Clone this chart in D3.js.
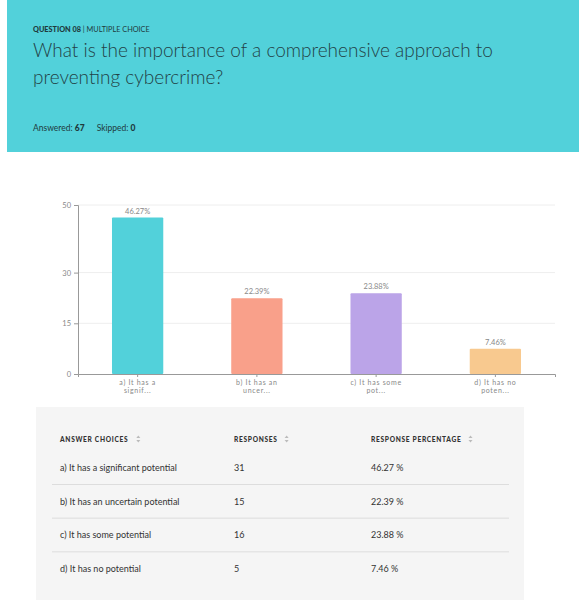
<!DOCTYPE html>
<html>
<head>
<meta charset="utf-8">
<script src="https://cdn.jsdelivr.net/npm/d3@7"></script>
<style>
  body { margin: 0; background: #fff; }
  text { font-family: Lato, "Open Sans", sans-serif; }
</style>
</head>
<body>
<div id="chart"></div>
<script>
// page size
const width = 579;
const height = 603;

// data
const choices = ["a) It has a significant potential", "b) It has an uncertain potential",
                 "c) It has some potential", "d) It has no potential"];
const shortLabels = [["a) It has a", "signif..."], ["b) It has an", "uncer..."],
                     ["c) It has some", "pot..."], ["d) It has no", "poten..."]];
const responses = [31, 15, 16, 5];
const percents = [46.27, 22.39, 23.88, 7.46];
const barColors = ["#52d1da", "#f9a08a", "#bba4e8", "#f8c98f"];
const yTicks = [0, 15, 30, 50];

const svg = d3.select("#chart")
  .append("svg")
  .attr("width", width)
  .attr("height", height);

// header band
svg.append("rect")
  .attr("x", 7).attr("y", 0)
  .attr("width", width - 7).attr("height", 152)
  .attr("fill", "#52d1da");

svg.append("text")
  .attr("x", 33).attr("y", 32)
  .attr("font-size", 7.3).attr("fill", "#1f3a3d")
  .html('<tspan font-weight="900">QUESTION 08</tspan> | MULTIPLE CHOICE');

const titleLines = ["What is the importance of a comprehensive approach to", "preventing cybercrime?"];
svg.selectAll(".title")
  .data(titleLines)
  .enter()
  .append("text")
  .attr("class", "title")
  .attr("x", 33)
  .attr("y", (d, i) => 57 + i * 27)
  .attr("font-size", 19)
  .attr("font-weight", 300)
  .attr("fill", "#234246")
  .text(d => d);

svg.append("text")
  .attr("x", 33).attr("y", 131)
  .attr("font-size", 8.5).attr("fill", "#1f3a3d")
  .html('Answered: <tspan font-weight="900">67</tspan><tspan dx="12">Skipped: </tspan><tspan font-weight="900">0</tspan>');

/* bar chart */
const plot = {left: 78, right: 555, top: 205, bottom: 374};

let yScale = d3.scaleLinear()
  .domain([0, 50])
  .range([plot.bottom, plot.top]);

let xScale = d3.scaleBand()
  .domain(d3.range(choices.length))
  .range([plot.left, plot.right])
  .paddingInner(0.57)
  .paddingOuter(0.285);

// grid lines
svg.append("g")
  .selectAll("line")
  .data(yTicks.filter(d => d > 0))
  .enter()
  .append("line")
  .attr("x1", plot.left).attr("x2", plot.right)
  .attr("y1", d => yScale(d)).attr("y2", d => yScale(d))
  .attr("stroke", "#eeeeee");

// y axis
const yAxis = svg.append("g")
  .attr("transform", `translate(${plot.left},0)`)
  .call(d3.axisLeft(yScale).tickValues(yTicks).tickSize(4).tickPadding(3));
yAxis.select(".domain").attr("stroke", "#999");
yAxis.selectAll(".tick line").attr("stroke", "#999");
yAxis.selectAll("text").attr("fill", "#888").attr("font-size", 7.5)
  .attr("font-family", "Lato, sans-serif");

// bars
svg.selectAll(".bar")
  .data(percents)
  .enter()
  .append("rect")
  .attr("class", "bar")
  .attr("x", (d, i) => xScale(i))
  .attr("y", d => yScale(d))
  .attr("width", xScale.bandwidth())
  .attr("height", d => plot.bottom - yScale(d))
  .attr("rx", 1)
  .attr("fill", (d, i) => barColors[i]);

// value labels
svg.selectAll(".val")
  .data(percents)
  .enter()
  .append("text")
  .attr("class", "val")
  .attr("x", (d, i) => xScale(i) + xScale.bandwidth() / 2)
  .attr("y", d => yScale(d) - 4)
  .attr("text-anchor", "middle")
  .attr("font-size", 7.5)
  .attr("fill", "#888")
  .text(d => d.toFixed(2) + "%");

// x axis
const xAxis = svg.append("g")
  .attr("transform", `translate(0,${plot.bottom})`)
  .call(d3.axisBottom(xScale).tickSize(3).tickFormat(""));
xAxis.select(".domain").attr("stroke", "#999");
xAxis.selectAll(".tick line").attr("stroke", "#999");

const xLab = svg.selectAll(".xlab")
  .data(shortLabels)
  .enter()
  .append("text")
  .attr("class", "xlab")
  .attr("text-anchor", "middle")
  .attr("font-size", 7)
  .attr("letter-spacing", 0.7)
  .attr("fill", "#888")
  .attr("transform", (d, i) => `translate(${xScale(i) + xScale.bandwidth() / 2},${plot.bottom + 11})`);
xLab.selectAll("tspan")
  .data(d => d)
  .enter()
  .append("tspan")
  .attr("x", 0)
  .attr("dy", (d, i) => i === 0 ? 0 : 7.5)
  .text(d => d);

/* table */
svg.append("rect")
  .attr("x", 36).attr("y", 407)
  .attr("width", 488).attr("height", 193)
  .attr("fill", "#f5f5f5");

const colX = [60, 234, 371];
const headers = ["ANSWER CHOICES", "RESPONSES", "RESPONSE PERCENTAGE"];
const head = svg.selectAll(".head")
  .data(headers)
  .enter()
  .append("g")
  .attr("class", "head");
const headText = head.append("text")
  .attr("x", (d, i) => colX[i]).attr("y", 441.5)
  .attr("font-size", 6.6).attr("font-weight", 900)
  .attr("letter-spacing", 0.7)
  .attr("fill", "#333")
  .text(d => d);

// sort arrows next to headers
head.each(function(d, i) {
  const w = headText.nodes()[i].getBBox().width;
  const g = d3.select(this).append("g")
    .attr("transform", `translate(${colX[i] + w + 9},439)`);
  g.append("path").attr("d", "M-2,-1 L2,-1 L0,-3.5 Z").attr("fill", "#bbb");
  g.append("path").attr("d", "M-2,1 L2,1 L0,3.5 Z").attr("fill", "#bbb");
});

const rowY = d3.scalePoint().domain(d3.range(choices.length)).range([471, 572]);

const rows = svg.selectAll(".row")
  .data(choices)
  .enter()
  .append("g")
  .attr("class", "row")
  .attr("transform", (d, i) => `translate(0,${rowY(i)})`);
rows.append("text").attr("x", colX[0]).attr("font-size", 9).attr("fill", "#333").text(d => d);
rows.append("text").attr("x", colX[1]).attr("font-size", 9).attr("fill", "#333").text((d, i) => responses[i]);
rows.append("text").attr("x", colX[2]).attr("font-size", 9).attr("fill", "#333").text((d, i) => percents[i].toFixed(2) + " %");

// row dividers
svg.selectAll(".div")
  .data(d3.range(choices.length - 1))
  .enter()
  .append("line")
  .attr("x1", 52).attr("x2", 509)
  .attr("y1", i => rowY(i) + 13.5).attr("y2", i => rowY(i) + 13.5)
  .attr("stroke", "#dddddd");
</script>
</body>
</html>
